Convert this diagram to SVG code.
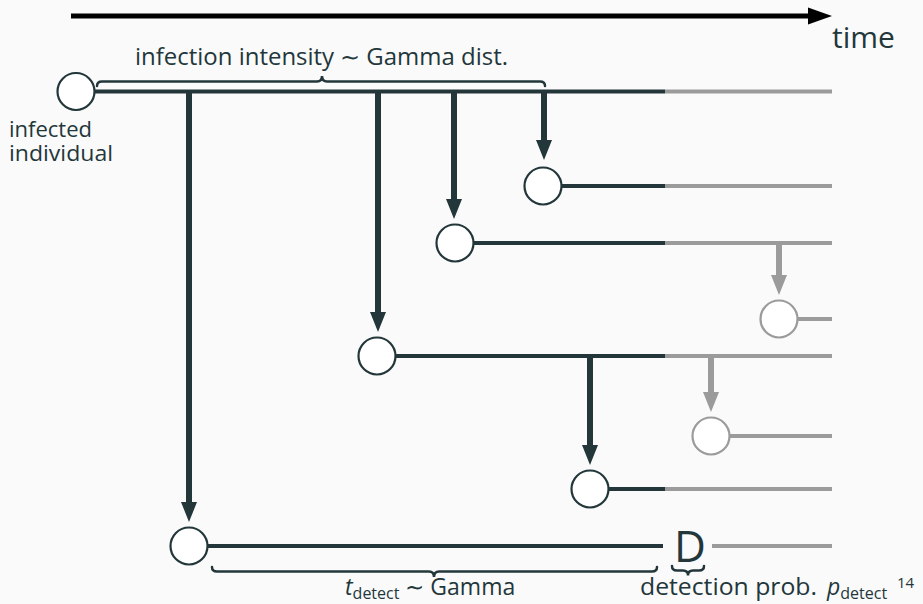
<svg xmlns="http://www.w3.org/2000/svg" width="923" height="604" viewBox="0 0 923 604">
<style>
.t{font-family:"Open Sans","Liberation Sans",sans-serif;fill:#23373b}
.dk{stroke:#23373b;stroke-width:4;fill:none}
.gy{stroke:#9b9b9b;stroke-width:4;fill:none}
.nd{fill:#ffffff;stroke:#23373b;stroke-width:2.2}
.ng{fill:#ffffff;stroke:#9b9b9b;stroke-width:2.2}
.ad{stroke:#23373b;stroke-width:6}
.ag{stroke:#9b9b9b;stroke-width:6}
.br{stroke:#23373b;stroke-width:2.5;fill:none;stroke-linecap:round}
</style>
<defs>
<marker id="hd" markerUnits="userSpaceOnUse" markerWidth="20" markerHeight="25" viewBox="0 0 25 20" refX="0" refY="10" orient="auto" overflow="visible">
<path d="M0,0 L25,10 L0,20 Z" fill="#23373b"/>
</marker>
<marker id="hg" markerUnits="userSpaceOnUse" markerWidth="20" markerHeight="25" viewBox="0 0 25 20" refX="0" refY="10" orient="auto" overflow="visible">
<path d="M0,0 L25,10 L0,20 Z" fill="#9b9b9b"/>
</marker>
</defs>
<rect width="923" height="604" fill="#fafafa"/>
<g id="timeaxis">
<line x1="71" y1="16" x2="809" y2="16" stroke="#000" stroke-width="5"/>
<polygon points="808,7.5 832,16 808,24.5" fill="#000"/>
<text class="t" x="832" y="48" font-size="30">time</text>
</g>
<g id="connectors">
<line class="dk" x1="94" y1="91.5" x2="665" y2="91.5"/>
<line class="gy" x1="665" y1="91.5" x2="832" y2="91.5"/>
<line class="dk" x1="562" y1="186" x2="665" y2="186"/>
<line class="gy" x1="665" y1="186" x2="832" y2="186"/>
<line class="dk" x1="474" y1="243" x2="665" y2="243"/>
<line class="gy" x1="665" y1="243" x2="832" y2="243"/>
<line class="gy" x1="798" y1="319" x2="832" y2="319"/>
<line class="dk" x1="396" y1="356" x2="665" y2="356"/>
<line class="gy" x1="665" y1="356" x2="832" y2="356"/>
<line class="gy" x1="730" y1="436" x2="832" y2="436"/>
<line class="dk" x1="609" y1="489" x2="665" y2="489"/>
<line class="gy" x1="665" y1="489" x2="832" y2="489"/>
<line class="dk" x1="207" y1="546" x2="663" y2="546"/>
<line class="gy" x1="712" y1="546" x2="832" y2="546"/>
<line class="ad" x1="189" y1="91" x2="189" y2="502" marker-end="url(#hd)"/>
<line class="ad" x1="378" y1="91" x2="378" y2="312" marker-end="url(#hd)"/>
<line class="ad" x1="454" y1="91" x2="454" y2="199" marker-end="url(#hd)"/>
<line class="ad" x1="544" y1="91" x2="544" y2="140" marker-end="url(#hd)"/>
<line class="ag" x1="779" y1="243" x2="779" y2="275" marker-end="url(#hg)"/>
<line class="ag" x1="711" y1="356" x2="711" y2="392" marker-end="url(#hg)"/>
<line class="ad" x1="590" y1="356" x2="590" y2="445" marker-end="url(#hd)"/>
</g>
<g id="root"><circle class="nd" cx="76" cy="91.5" r="18.5"/>
<text class="t" font-size="22" x="9" y="137">infected</text>
<text class="t" font-size="22" x="9" y="161" textLength="104" lengthAdjust="spacingAndGlyphs">individual</text></g>
<g id="n1"><circle class="nd" cx="543" cy="186" r="18.5"/></g>
<g id="n2"><circle class="nd" cx="455" cy="243" r="18.5"/></g>
<g id="n3"><circle class="ng" cx="779" cy="319" r="18.5"/></g>
<g id="n4"><circle class="nd" cx="377" cy="356" r="18.5"/></g>
<g id="n5"><circle class="ng" cx="711" cy="436" r="18.5"/></g>
<g id="n6"><circle class="nd" cx="590" cy="489" r="18.5"/></g>
<g id="n7"><circle class="nd" cx="189" cy="546" r="18.5"/></g>
<g id="detect"><text class="t" x="690" y="562" font-size="44" text-anchor="middle">D</text></g>
<g id="annotations">
<path class="br" d="M97,86 Q97,81.5 102,81.5 L317,81.5 Q322,81.5 322,76 Q322,81.5 327,81.5 L540,81.5 Q545,81.5 545,86"/>
<text class="t" font-size="23" x="135" y="65" textLength="373" lengthAdjust="spacingAndGlyphs">infection intensity ∼ Gamma dist.</text>
<path class="br" d="M212,567 Q212,571.5 217,571.5 L429,571.5 Q434,571.5 434,577 Q434,571.5 439,571.5 L652,571.5 Q657,571.5 657,567"/>
<path class="br" d="M672,566 Q672,570.5 677,570.5 L683,570.5 Q688,570.5 688,575.5 Q688,570.5 693,570.5 L699,570.5 Q704,570.5 704,566"/>
<text class="t" font-size="23" x="345" y="595"><tspan font-style="italic">t</tspan><tspan font-size="16" dy="3.5">detect</tspan><tspan dy="-3.5"> ∼ Gamma</tspan></text>
<text class="t" font-size="23" x="640" y="595" textLength="177" lengthAdjust="spacingAndGlyphs">detection prob.</text>
<text class="t" font-size="23" x="827" y="595"><tspan font-style="italic">p</tspan><tspan font-size="16" dy="3.5">detect</tspan></text>
<text class="t" font-size="15" x="897" y="588">14</text>
</g>
</svg>
